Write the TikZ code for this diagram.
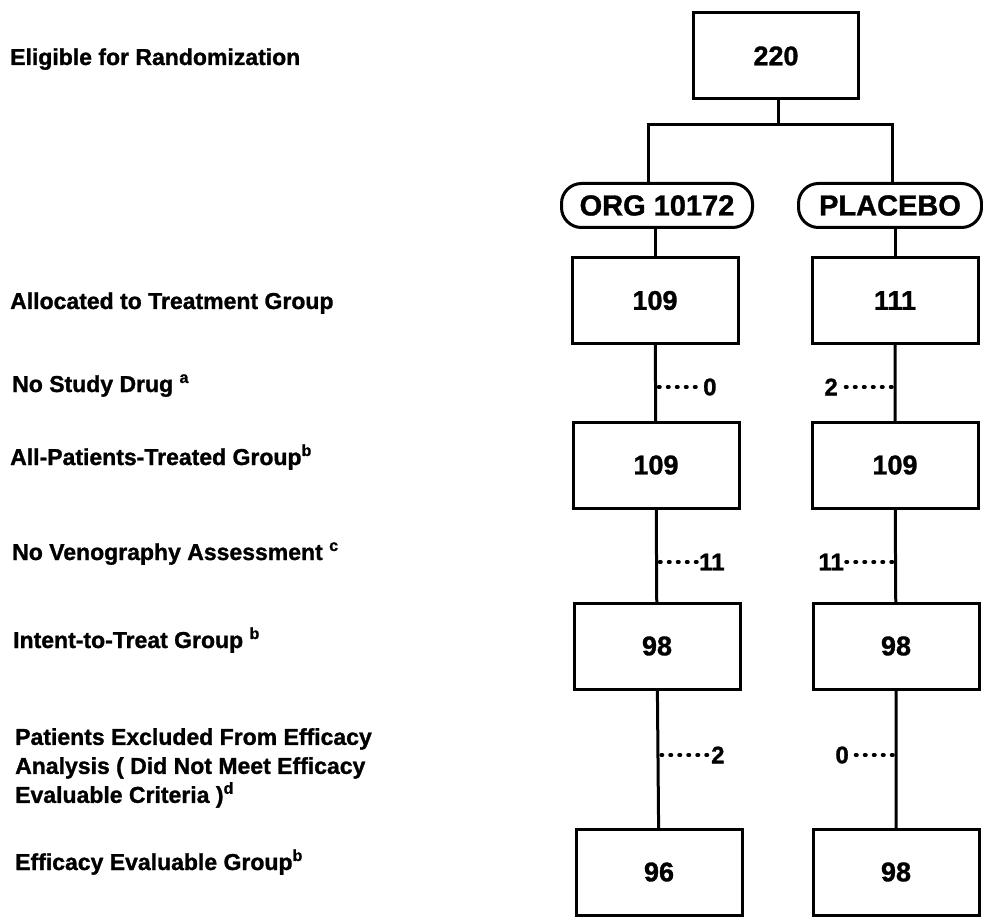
\documentclass[tikz,border=0pt]{standalone}
\usepackage{fontspec}
\setmainfont{Liberation Sans}[BoldFeatures={FakeBold=1.2}]
\begin{document}
\begin{tikzpicture}[x=1pt,y=-1pt,
  lbl/.style={anchor=base west,inner sep=0pt,font=\fontsize{23}{29}\selectfont\bfseries},
  numbox/.style={draw,line width=3pt,minimum width=166pt,minimum height=86pt,inner sep=0pt,font=\fontsize{27}{30}\selectfont\bfseries},
  pill/.style={draw,line width=3pt,rounded corners=20pt,minimum height=44pt,inner sep=0pt,font=\fontsize{29}{32}\selectfont\bfseries},
  conn/.style={line width=3pt},
  dotline/.style={line width=3.5pt,line cap=round,dash pattern=on 1.5pt off 7.5pt},
  cnt/.style={inner sep=0pt,font=\fontsize{24}{26}\selectfont\bfseries}]
\useasboundingbox (0,0) rectangle (983,917);

% left labels
\node[lbl] (l1) at (10,65) {Eligible for Randomization};
\node[lbl] (l2) at (10,309) {Allocated to Treatment Group};
\node[lbl] (l3) at (12,392) {No Study Drug \textsuperscript{a}};
\node[lbl] (l4) at (10,465) {All-Patients-Treated Group\textsuperscript{b}};
\node[lbl] (l5) at (12,560) {No Venography Assessment \textsuperscript{c}};
\node[lbl] (l6) at (13,648) {Intent-to-Treat Group \textsuperscript{b}};
\node[lbl,anchor=north west,align=left] (l7) at (15,728) {Patients Excluded From Efficacy\\Analysis ( Did Not Meet Efficacy\\Evaluable Criteria )\textsuperscript{d}};
\node[lbl] (l8) at (15,870) {Efficacy Evaluable Group\textsuperscript{b}};

% top box and split
\node[numbox,minimum width=165pt] (top) at (776,56) {220};
\coordinate (jc) at (778,125);
\coordinate (jl) at (648,125);
\coordinate (jr) at (892,125);
\node[pill,minimum width=191pt] (pl) at (657,205.5) {ORG 10172};
\node[pill,minimum width=183pt] (pr) at (890,205.5) {PLACEBO};

% column connectors
\coordinate (ka1) at (655,300.5);
\coordinate (kb1) at (895,300.5);
\coordinate (ka4) at (659,872);
\coordinate (kb4) at (896,872);
\draw[conn] (top.south -| jc) -- (jc);
\draw[conn] ([xshift=-1.5pt]jl) -- ([xshift=1.5pt]jr);
\draw[conn] (jl) -- (jl |- pl.north);
\draw[conn] (jr) -- (jr |- pr.north);
\draw[conn] (pl.south -| ka1) -- (ka1);
\draw[conn] (pr.south -| kb1) -- (kb1);
\draw[conn] (ka1) -- (656,465) -- (657,646) -- (ka4);
\draw[conn] (kb1) -- (895,465) -- (896,646) -- (kb4);

% boxes
\node[numbox,fill=white] (a1) at (655,300.5) {109};
\node[numbox,fill=white] (b1) at (895,300.5) {111};
\node[numbox,fill=white] (a2) at (656,465) {109};
\node[numbox,fill=white] (b2) at (895,465) {109};
\node[numbox,fill=white] (a3) at (657,646) {98};
\node[numbox,fill=white] (b3) at (896,646) {98};
\node[numbox,fill=white] (a4) at (659,872) {96};
\node[numbox,fill=white] (b4) at (896,872) {98};

% side counts
\coordinate (da1) at (655.5,387);
\coordinate (db1) at (895,387);
\coordinate (da2) at (656.5,562);
\coordinate (db2) at (895.5,562);
\coordinate (da3) at (658,755);
\coordinate (db3) at (896,755);
\node[cnt,anchor=west] (ca1) at (703,387) {0};
\node[cnt,anchor=east] (cb1) at (838,387) {2};
\node[cnt,anchor=west] (ca2) at (699,562) {11};
\node[cnt,anchor=east] (cb2) at (844,562) {11};
\node[cnt,anchor=west] (ca3) at (711,755) {2};
\node[cnt,anchor=east] (cb3) at (849,755) {0};
\draw[dotline] ([xshift=3pt]da1) -- ([xshift=-2pt]ca1.west);
\draw[dotline] ([xshift=-3pt]db1) -- ([xshift=2pt]cb1.east);
\draw[dotline] ([xshift=3pt]da2) -- ([xshift=-2pt]ca2.west);
\draw[dotline] ([xshift=-3pt]db2) -- ([xshift=2pt]cb2.east);
\draw[dotline] ([xshift=3pt]da3) -- ([xshift=-2pt]ca3.west);
\draw[dotline] ([xshift=-3pt]db3) -- ([xshift=2pt]cb3.east);
\end{tikzpicture}
\end{document}
